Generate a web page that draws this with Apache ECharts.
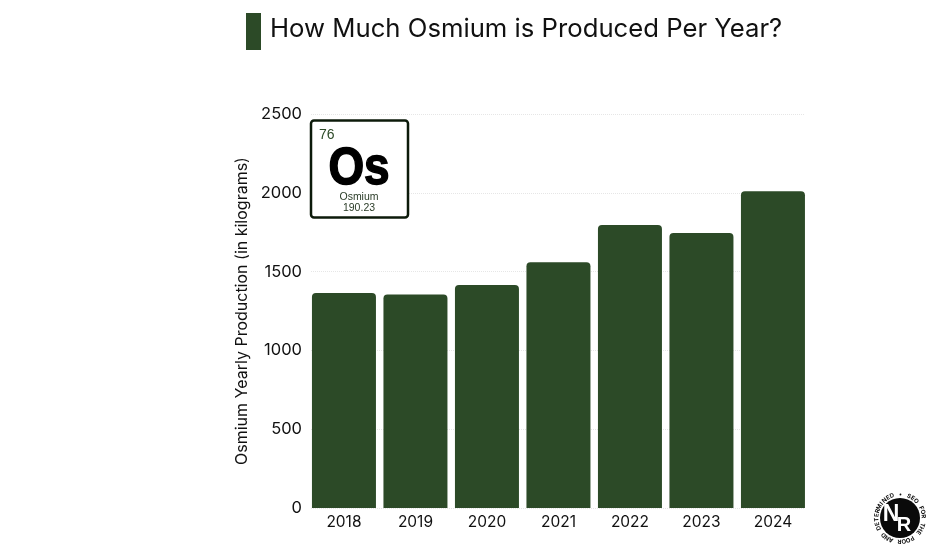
<!DOCTYPE html>
<html>
<head>
<meta charset="utf-8">
<title>Osmium production</title>
<script src="https://cdn.jsdelivr.net/npm/echarts@6/dist/echarts.min.js"></script>
<style>
html, body { margin: 0; padding: 0; background: #fff; }
#chart { width: 931px; height: 552px; }
</style>
</head>
<body>
<div id="chart"></div>
<script>
var years = ['2018', '2019', '2020', '2021', '2022', '2023', '2024'];
var production = [1365, 1355, 1415, 1560, 1795, 1745, 2010];
var yTicks = [0, 500, 1000, 1500, 2000, 2500];

var titleText = 'How Much Osmium is Produced Per Year?';
var yAxisTitle = 'Osmium Yearly Production (in kilograms)';
var logoRing = 'DETERMINED • SEO FOR THE POOR AND ';

var green = '#2c4a27';
var fontName = 'Inter';

var chart = echarts.init(document.getElementById('chart'));

// letters of the badge, placed one by one around the circle
var logoCx = 900, logoCy = 518, logoR = 23.5;
var ringLetters = [];
for (var i = 0; i < logoRing.length; i++) {
	var a = (i / logoRing.length) * Math.PI * 2 - Math.PI * 1.14;
	ringLetters.push({
		type: 'text',
		x: logoCx + Math.cos(a) * logoR,
		y: logoCy + Math.sin(a) * logoR,
		rotation: -(a + Math.PI / 2),
		style: {
			text: logoRing.charAt(i),
			font: 'bold 6px "' + fontName + '"',
			fill: '#111',
			align: 'center',
			verticalAlign: 'middle'
		}
	});
}

var option = {
	backgroundColor: '#fff',
	animation: false,
	textStyle: { fontFamily: fontName },
	// grid 0 holds the gridlines and labels, grid 1 holds the bars
	grid: [
		{ left: 311, top: 114, width: 494, height: 394 },
		{ left: 308.2, top: 114, width: 500.5, height: 394 }
	],
	xAxis: [
		{ gridIndex: 0, type: 'value', show: false, min: 0, max: 1 },
		{
			gridIndex: 1,
			type: 'category',
			data: years,
			axisLine: { show: false },
			axisTick: { show: false },
			axisLabel: { color: '#111', fontSize: 15.5, margin: 6 }
		}
	],
	yAxis: [
		{
			gridIndex: 0,
			type: 'value',
			min: yTicks[0],
			max: yTicks[yTicks.length - 1],
			interval: 500,
			name: yAxisTitle,
			nameLocation: 'middle',
			nameGap: 58,
			nameTextStyle: { color: '#111', fontSize: 16 },
			axisLine: { show: false },
			axisTick: { show: false },
			axisLabel: {
				color: '#111',
				fontSize: 16.5,
				margin: 9,
				formatter: function (v) { return String(v); }
			},
			splitLine: { lineStyle: { color: '#e6e6e6', type: 'dotted', width: 1 } }
		},
		{ gridIndex: 1, type: 'value', show: false, min: 0, max: 2500 }
	],
	series: [{
		type: 'bar',
		xAxisIndex: 1,
		yAxisIndex: 1,
		data: production,
		barWidth: 64,
		itemStyle: { color: green, borderRadius: [4, 4, 0, 0] }
	}],
	graphic: [
		{ type: 'rect', shape: { x: 246, y: 13, width: 15, height: 37 }, style: { fill: green } },
		{
			type: 'text', x: 270, y: 29,
			style: { text: titleText, font: '25.7px "' + fontName + '"', fill: '#111', verticalAlign: 'middle' }
		},
		// periodic table tile
		{
			type: 'rect', z: 10,
			shape: { x: 311, y: 120.5, width: 97, height: 97, r: 3 },
			style: { fill: '#fff', stroke: '#0c1a0a', lineWidth: 2.5 }
		},
		{ type: 'text', z: 11, x: 319, y: 135, style: { text: '76', font: '14px "Liberation Sans"', fill: '#2c4a27', verticalAlign: 'middle' } },
		{
			type: 'text', z: 11, x: 359, y: 170, scaleX: 0.9,
			style: { text: 'Os', font: 'bold 51px "Liberation Sans"', fill: '#000', stroke: '#000', lineWidth: 1.5, align: 'center', verticalAlign: 'middle' }
		},
		{ type: 'text', z: 11, x: 359, y: 197, style: { text: 'Osmium', font: '10.5px "Liberation Sans"', fill: '#2b3d28', align: 'center', verticalAlign: 'middle' } },
		{ type: 'text', z: 11, x: 359, y: 208.5, style: { text: '190.23', font: '10.5px "Liberation Sans"', fill: '#2b3d28', align: 'center', verticalAlign: 'middle' } },
		// badge
		{ type: 'circle', shape: { cx: logoCx, cy: logoCy, r: 20 }, style: { fill: '#0a0a0a' } },
		{ type: 'text', x: 891, y: 514.5, style: { text: 'N', font: 'bold 23px "Liberation Sans"', fill: '#fff', align: 'center', verticalAlign: 'middle' } },
		{ type: 'text', x: 904, y: 525, style: { text: 'R', font: 'bold 20px "Liberation Sans"', fill: '#fff', align: 'center', verticalAlign: 'middle' } }
	].concat(ringLetters)
};

chart.setOption(option);
</script>
</body>
</html>
